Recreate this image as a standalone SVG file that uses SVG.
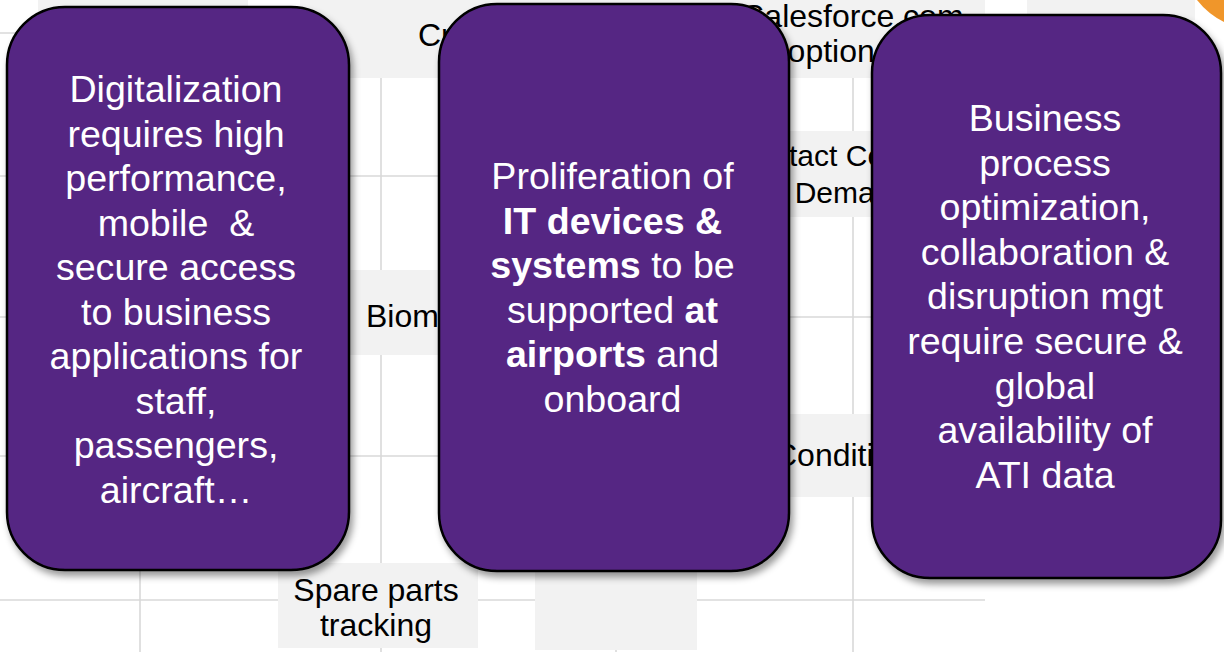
<svg xmlns="http://www.w3.org/2000/svg" width="1224" height="652" viewBox="0 0 1224 652">
<style>
.grid{stroke:#d9d9d9;stroke-width:1.6;fill:none}
.cell{fill:#f2f2f2}
.bg{font-family:"Liberation Sans",Arial,sans-serif;font-size:32px;fill:#000}
.box{fill:#542683;stroke:#000;stroke-width:2.5}
.t{font-family:"Liberation Sans",Arial,sans-serif;font-size:37.6px;fill:#fff;text-anchor:middle}
.b{font-weight:bold}
</style>
<defs>
<filter id="sh" x="-10%" y="-10%" width="125%" height="125%">
<feDropShadow dx="3" dy="5" stdDeviation="3.5" flood-color="#000" flood-opacity="0.4"/>
</filter>
</defs>
<rect width="1224" height="652" fill="#fff"/>
<g id="background">
<path class="grid" d="M0 33H985M0 176H985M0 317H985M0 456H985M0 600H985M140 0V652M381 0V652M616 0V652M853 0V652"/>
<rect class="cell" x="38" y="0" width="210" height="78"/>
<rect class="cell" x="300" y="0" width="685" height="78"/>
<rect class="cell" x="1027" y="0" width="168" height="20"/>
<rect class="cell" x="350" y="270" width="90" height="85"/>
<rect class="cell" x="720" y="131" width="200" height="86"/>
<rect class="cell" x="720" y="414" width="200" height="83"/>
<rect class="cell" x="278" y="563" width="200" height="85"/>
<rect class="cell" x="535" y="560" width="162" height="90"/>
<path d="M1197 0H1224V22Q1208 14 1197 0Z" fill="#f0962a"/>
<text class="bg" x="418" y="46">Crew</text>
<text class="bg" x="743" y="27">Salesforce.com</text>
<text class="bg" x="752" y="62">adoption</text>
<text class="bg" x="734" y="166" style="font-size:30px">Contact Center</text>
<text class="bg" x="753" y="203" style="font-size:30px">on Demand</text>
<text class="bg" x="366" y="327">Biometrics</text>
<text class="bg" x="774" y="466">Condition</text>
<text class="bg" x="376" y="601" text-anchor="middle">Spare parts</text>
<text class="bg" x="376" y="636" text-anchor="middle">tracking</text>
</g>
<g id="connectors"></g>
<g id="node1">
<rect class="box" filter="url(#sh)" x="7" y="7" width="342" height="563" rx="58" ry="58"/>
<text class="t" x="176" y="102">Digitalization</text>
<text class="t" x="176" y="146.5">requires high</text>
<text class="t" x="176" y="191">performance,</text>
<text class="t" x="176" y="235.5" xml:space="preserve">mobile  &amp;</text>
<text class="t" x="176" y="280">secure access</text>
<text class="t" x="176" y="324.5">to business</text>
<text class="t" x="176" y="369">applications for</text>
<text class="t" x="176" y="413.5">staff,</text>
<text class="t" x="176" y="458">passengers,</text>
<text class="t" x="176" y="502.5">aircraft…</text>
</g>
<g id="node2">
<rect class="box" filter="url(#sh)" x="439" y="4" width="350" height="567" rx="58" ry="58"/>
<text class="t" x="612.5" y="189">Proliferation of</text>
<text class="t b" x="612.5" y="233.6">IT devices &amp;</text>
<text class="t" x="612.5" y="278"><tspan class="b">systems</tspan> to be</text>
<text class="t" x="612.5" y="322.8">supported <tspan class="b">at</tspan></text>
<text class="t" x="612.5" y="367.4"><tspan class="b">airports</tspan> and</text>
<text class="t" x="612.5" y="412">onboard</text>
</g>
<g id="node3">
<rect class="box" filter="url(#sh)" x="872" y="15" width="349" height="563" rx="58" ry="58"/>
<text class="t" x="1045" y="131">Business</text>
<text class="t" x="1045" y="175.6">process</text>
<text class="t" x="1045" y="220">optimization,</text>
<text class="t" x="1045" y="264.8">collaboration &amp;</text>
<text class="t" x="1045" y="309.4">disruption mgt</text>
<text class="t" x="1045" y="354">require secure &amp;</text>
<text class="t" x="1045" y="398.6">global</text>
<text class="t" x="1045" y="443">availability of</text>
<text class="t" x="1045" y="487.8">ATI data</text>
</g>
</svg>
